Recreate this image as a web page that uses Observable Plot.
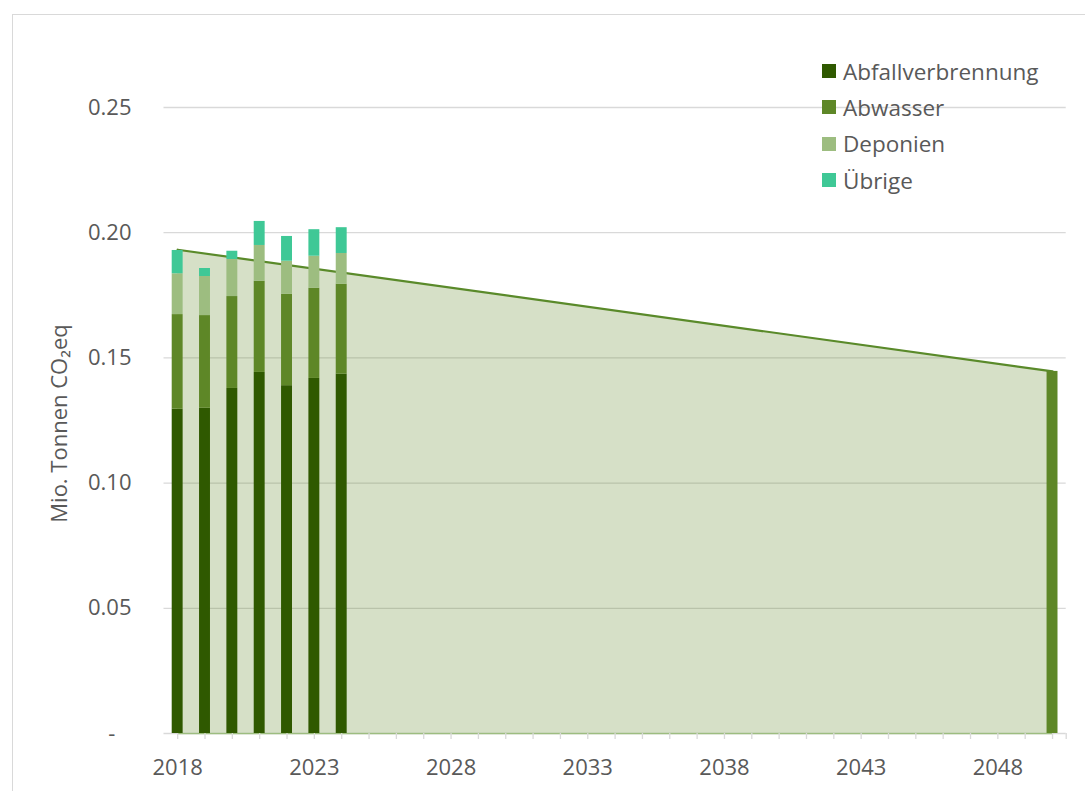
<!DOCTYPE html>
<html><head><meta charset="utf-8">
<script src="https://cdn.jsdelivr.net/npm/d3@7"></script>
<script src="https://cdn.jsdelivr.net/npm/@observablehq/plot@0.6"></script>
<style>
body{margin:0;background:#fff;font-family:"Open Sans",sans-serif;}
#frame{position:absolute;left:12px;top:14px;width:1100px;height:800px;border:1px solid #d9d9d9;overflow:hidden;}
#chart{position:absolute;left:0;top:0;}
#legend{position:absolute;left:809px;top:38px;font-size:22.5px;color:#595959;}
#legend .row{display:flex;align-items:center;height:36.3px;}
#legend .sw{width:14px;height:14px;margin-right:7px;}
</style></head>
<body><div id="frame"><div id="chart"></div><div id="legend"></div></div>
<script>
const years = [2018, 2019, 2020, 2021, 2022, 2023, 2024];
const categories = ["Abfallverbrennung", "Abwasser", "Deponien", "Übrige"];
const abfallverbrennung = [0.1295, 0.1299, 0.1378, 0.1442, 0.1389, 0.1418, 0.1435];
const abwasser          = [0.0378, 0.0370, 0.0367, 0.0364, 0.0365, 0.0360, 0.0359];
const deponien          = [0.0163, 0.0156, 0.0148, 0.0143, 0.0132, 0.0128, 0.0123];
const uebrige           = [0.0093, 0.0032, 0.0033, 0.0096, 0.0099, 0.0106, 0.0103];
const targetYears = [2050];
const targetValues = [0.1446];
const pathYears = [2018, 2050];
const pathValues = [0.1932, 0.1446];
const colors = ["#2f5900", "#5e8727", "#9dbd80", "#3fc896"];
const yTicks = [0, 0.05, 0.10, 0.15, 0.20, 0.25];
const allYears = d3.range(2018, 2051);
const xLabelYears = [2018, 2023, 2028, 2033, 2038, 2043, 2048];
const yLabel = "Mio. Tonnen CO₂eq";

const series = [abfallverbrennung, abwasser, deponien, uebrige];
const rows = [];
years.forEach((yr, i) => {
  let base = 0;
  series.forEach((s, k) => {
    rows.push({year: yr, cat: categories[k], y1: base, y2: base + s[i]});
    base += s[i];
  });
});
const target = targetYears.map((yr, i) => ({year: yr, value: targetValues[i]}));
const path = pathYears.map((yr, i) => ({year: yr, value: pathValues[i]}));
const half = 0.2;
const font = "'Open Sans', sans-serif";

const chart = Plot.plot({
  width: 1072, height: 776,
  marginLeft: 150.5, marginRight: 19.3, marginTop: 92, marginBottom: 58,
  style: {fontFamily: font, fontSize: "22px", color: "#595959", background: "transparent"},
  x: {type: "linear", domain: [2017.5, 2050.5]},
  y: {domain: [0, 0.25]},
  color: {domain: categories, range: colors},
  marks: [
    Plot.gridY(yTicks.filter(d => d > 0), {stroke: "#d9d9d9", strokeOpacity: 1, strokeWidth: 1.3}),
    Plot.areaY(path, {x: "year", y: "value", fill: "rgb(91,131,30)", fillOpacity: 0.25}),
    Plot.ruleY([0], {stroke: "#d9d9d9", strokeWidth: 1.3}),
    Plot.ruleY([0], {x1: pathYears[0], x2: pathYears[pathYears.length - 1], stroke: "#9dbd80", strokeWidth: 1.5}),
    Plot.lineY(path, {x: "year", y: "value", stroke: "#5a8a2a", strokeWidth: 2.2}),
    Plot.rect(rows, {x1: d => d.year - half, x2: d => d.year + half, y1: "y1", y2: "y2", fill: "cat"}),
    Plot.rectY(target, {x1: d => d.year - half, x2: d => d.year + half, y: "value", fill: colors[1]}),
    Plot.axisX({ticks: allYears.concat([2050.5]), tickSize: 6, tickFormat: () => "", stroke: "#d9d9d9", strokeWidth: 1.3, label: null}),
    Plot.axisX({ticks: xLabelYears, tickSize: 0, tickPadding: 26, tickFormat: d => String(d), fill: "#595959", fontSize: 22, label: null}),
    Plot.axisY({ticks: yTicks, tickSize: 0, tickPadding: 32.5, fill: "#595959", fontSize: 22, label: null,
      tickFormat: d => d === 0 ? "-\u2007\u2009" : d3.format(".2f")(d)}),
    Plot.text([yLabel], {frameAnchor: "left", dx: -104, dy: 3, rotate: -90, text: d => d, fill: "#595959", fontSize: 22, textAnchor: "middle", lineAnchor: "middle"})
  ]
});
document.getElementById("chart").appendChild(chart);

const legend = document.getElementById("legend");
categories.forEach((c, i) => {
  const row = document.createElement("div");
  row.className = "row";
  row.innerHTML = `<span class="sw" style="background:${colors[i]}"></span><span>${c}</span>`;
  legend.appendChild(row);
});
</script>
</body></html>
